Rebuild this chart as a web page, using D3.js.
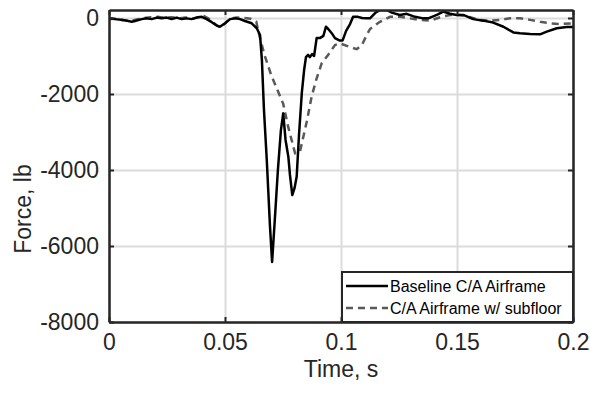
<!DOCTYPE html>
<html>
<head>
<meta charset="utf-8">
<script src="https://cdn.jsdelivr.net/npm/d3@7"></script>
<style>
  body { margin: 0; background: #fff; }
  text { font-family: "Liberation Sans", Arial, sans-serif; }
</style>
</head>
<body>
<div id="chart"></div>
<script>
// time (s) and force (lb)
const baseTime = [0, 0.0026, 0.006, 0.0098, 0.0112, 0.0141, 0.0163, 0.0184, 0.0206, 0.0227, 0.0249, 0.027, 0.0292, 0.0313, 0.0335, 0.0356, 0.0378, 0.04, 0.0421, 0.0443, 0.0464, 0.0478, 0.05, 0.0522, 0.0543, 0.0565, 0.0586, 0.0615, 0.0637, 0.0651, 0.0659, 0.0668, 0.068, 0.0694, 0.0703, 0.0716, 0.0728, 0.0741, 0.0751, 0.0761, 0.0773, 0.078, 0.079, 0.08, 0.0809, 0.0819, 0.0831, 0.0841, 0.0849, 0.0858, 0.0866, 0.0875, 0.0884, 0.0895, 0.0909, 0.0924, 0.0935, 0.0945, 0.096, 0.0974, 0.0993, 0.1007, 0.1022, 0.1039, 0.1052, 0.1073, 0.1091, 0.1111, 0.1125, 0.1147, 0.1168, 0.1197, 0.1219, 0.1254, 0.1283, 0.1319, 0.1355, 0.1376, 0.1413, 0.1441, 0.147, 0.1499, 0.1527, 0.157, 0.1613, 0.1656, 0.17, 0.1743, 0.1772, 0.1815, 0.1858, 0.1887, 0.193, 0.1973, 0.2];
const baseForce = [-10, -30, -50, -100, -80, -30, -10, -30, 10, -10, 10, -30, 10, -30, -10, -30, 10, 30, -30, -110, -200, -230, -140, -30, -10, -30, -80, -140, -270, -450, -1100, -2420, -3730, -5490, -6420, -5180, -4000, -2950, -2510, -3210, -3650, -4130, -4660, -4470, -4170, -3080, -1980, -1370, -1030, -970, -1030, -950, -1000, -530, -530, -470, -230, -290, -400, -530, -590, -590, -340, -160, 30, 30, 0, -10, -10, 130, 210, 210, 140, 80, 110, 30, -10, -10, 80, 170, 110, 80, 80, -30, -70, -120, -230, -380, -400, -420, -430, -360, -270, -240, -240];

const subTime = [0, 0.003, 0.006, 0.0095, 0.012, 0.015, 0.018, 0.021, 0.024, 0.027, 0.03, 0.033, 0.036, 0.039, 0.041, 0.0435, 0.046, 0.048, 0.05, 0.052, 0.055, 0.058, 0.061, 0.0635, 0.0644, 0.067, 0.0699, 0.0723, 0.0751, 0.0773, 0.0802, 0.0823, 0.0852, 0.0874, 0.0895, 0.0917, 0.0945, 0.0974, 0.0996, 0.1032, 0.1068, 0.109, 0.1111, 0.1125, 0.1168, 0.1211, 0.1254, 0.1297, 0.1341, 0.1384, 0.1427, 0.147, 0.1513, 0.1556, 0.1599, 0.1642, 0.1685, 0.1728, 0.1772, 0.1815, 0.1858, 0.1901, 0.1944, 0.2];
const subForce = [-30, -20, -60, -80, -40, 0, 20, 30, 0, 20, -10, 10, -20, 30, 50, -40, -170, -250, -150, -20, 10, 0, -20, -100, -360, -970, -1500, -1850, -2260, -2880, -3560, -3520, -2740, -2050, -1590, -1190, -970, -710, -670, -750, -820, -710, -450, -290, -100, 30, 30, -10, -50, -70, 20, 80, 80, 20, -50, -70, -50, -10, -10, -50, -100, -140, -160, -140];

const xTicks = [0, 0.05, 0.1, 0.15, 0.2];
const yTicks = [0, -2000, -4000, -6000, -8000];
const seriesNames = ['Baseline C/A Airframe', 'C/A Airframe w/ subfloor'];

const width = 590, height = 395;
const margin = { top: 10, right: 17, bottom: 73, left: 109 };
const plotW = width - margin.left - margin.right;
const plotH = height - margin.top - margin.bottom;

const svg = d3.select('#chart').append('svg')
  .attr('width', width).attr('height', height);
const g = svg.append('g').attr('transform', `translate(${margin.left},${margin.top})`);

const x = d3.scaleLinear().domain([0, 0.2]).range([0, plotW]);
const y = d3.scaleLinear().domain([-8000, 210]).range([plotH, 0]);

// grid
g.append('g')
  .attr('transform', `translate(0,${plotH})`)
  .call(d3.axisBottom(x).tickValues(xTicks).tickSize(-plotH).tickFormat(''))
  .call(s => s.select('.domain').remove())
  .selectAll('line').attr('stroke', '#dcdcdc').attr('stroke-width', 2);
g.append('g')
  .call(d3.axisLeft(y).tickValues(yTicks).tickSize(-plotW).tickFormat(''))
  .call(s => s.select('.domain').remove())
  .selectAll('line').attr('stroke', '#dcdcdc').attr('stroke-width', 2);

g.append('clipPath').attr('id', 'clip')
  .append('rect').attr('width', plotW).attr('height', plotH);

const line = d3.line().x(d => x(d[0])).y(d => y(d[1]));

g.append('path')
  .datum(d3.zip(subTime, subForce))
  .attr('clip-path', 'url(#clip)')
  .attr('fill', 'none').attr('stroke', '#595959')
  .attr('stroke-width', 2.5).attr('stroke-dasharray', '7,5')
  .attr('d', line);

g.append('path')
  .datum(d3.zip(baseTime, baseForce))
  .attr('clip-path', 'url(#clip)')
  .attr('fill', 'none').attr('stroke', '#000')
  .attr('stroke-width', 2.5).attr('stroke-linejoin', 'round')
  .attr('d', line);

// axes with inward ticks
const fmt = d => String(d);
const styleAxis = s => {
  s.select('.domain').attr('stroke', '#262626').attr('stroke-width', 2.5);
  s.selectAll('.tick line').attr('stroke', '#262626').attr('stroke-width', 2);
  s.selectAll('text').attr('fill', '#262626').style('font-size', '23px')
    .style('font-family', '"Liberation Sans", Arial, sans-serif');
};
g.append('g').attr('transform', `translate(0,${plotH})`)
  .call(d3.axisBottom(x).tickValues(xTicks).tickSizeInner(-5).tickSizeOuter(0).tickPadding(12).tickFormat(fmt))
  .call(styleAxis);
g.append('g')
  .call(d3.axisLeft(y).tickValues(yTicks).tickSizeInner(-5).tickSizeOuter(0).tickPadding(10).tickFormat(fmt))
  .call(styleAxis);
g.append('g')
  .call(d3.axisTop(x).tickValues(xTicks).tickSizeInner(-5).tickSizeOuter(0).tickFormat(''))
  .call(styleAxis);
g.append('g').attr('transform', `translate(${plotW},0)`)
  .call(d3.axisRight(y).tickValues(yTicks).tickSizeInner(-5).tickSizeOuter(0).tickFormat(''))
  .call(styleAxis);

// axis titles
svg.append('text')
  .attr('x', margin.left + plotW / 2).attr('y', 377)
  .attr('text-anchor', 'middle').attr('fill', '#262626')
  .style('font-size', '23px').text('Time, s');
svg.append('text')
  .attr('transform', 'translate(31,209) rotate(-90)')
  .attr('text-anchor', 'middle').attr('fill', '#262626')
  .style('font-size', '23px').text('Force, lb');

// legend
const legend = g.append('g').attr('transform', `translate(${x(0.1) + 1},${plotH - 50})`);
legend.append('rect')
  .attr('width', plotW - x(0.1) - 1).attr('height', 50)
  .attr('fill', '#fff').attr('stroke', '#262626').attr('stroke-width', 2);
const legendItems = [
  { label: seriesNames[0], color: '#000', dash: null },
  { label: seriesNames[1], color: '#595959', dash: '7,5' },
];
const item = legend.selectAll('.legend-item').data(legendItems).enter()
  .append('g').attr('class', 'legend-item')
  .attr('transform', (d, i) => `translate(0,${14 + i * 22})`);
item.append('line')
  .attr('x1', 4).attr('x2', 46).attr('y1', 0).attr('y2', 0)
  .attr('stroke', d => d.color).attr('stroke-width', 2.5)
  .attr('stroke-dasharray', d => d.dash);
item.append('text')
  .attr('x', 48).attr('y', 6)
  .attr('fill', '#000').style('font-size', '16px')
  .text(d => d.label);
</script>
</body>
</html>
